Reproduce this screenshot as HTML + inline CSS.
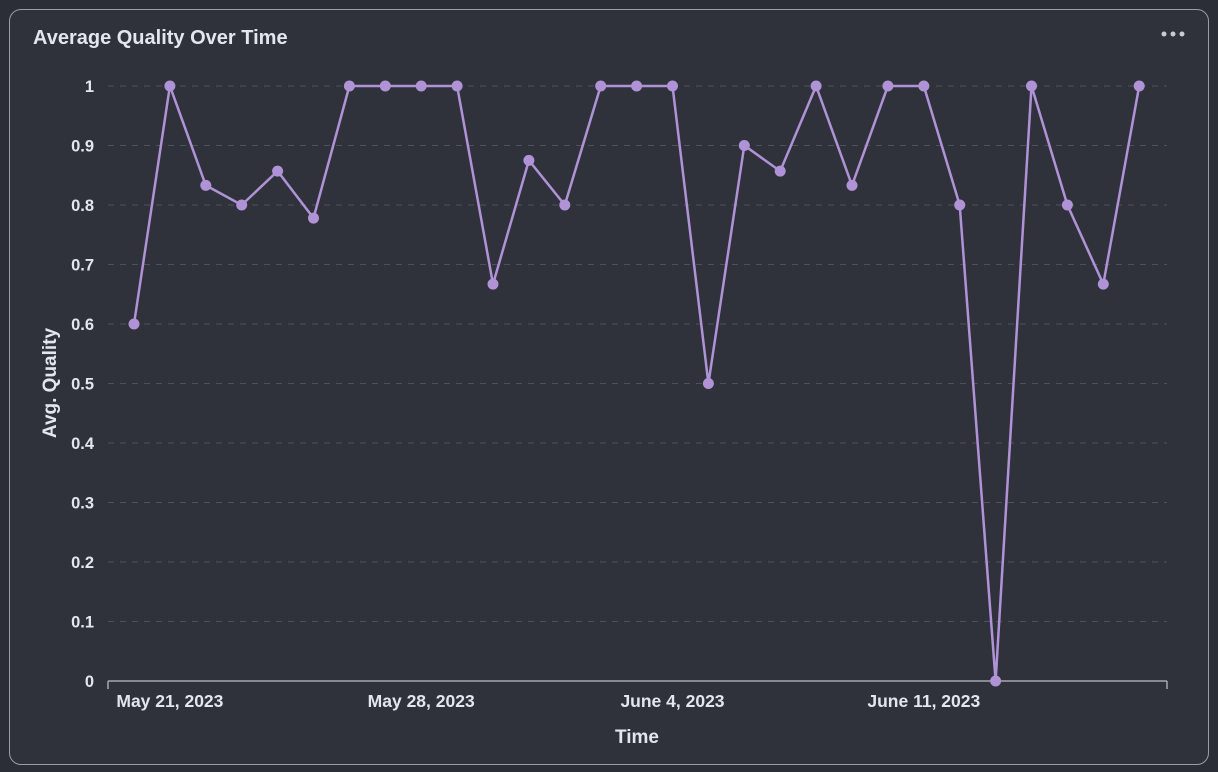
<!DOCTYPE html>
<html><head><meta charset="utf-8"><style>
body{margin:0;background:#2b2e36;font-family:"Liberation Sans",sans-serif;}
.card{position:absolute;left:9px;top:9px;width:1198px;height:754px;border:1px solid #9a9da5;border-radius:12px;background:#2f323b;}
</style></head><body>
<div class="card"></div>
<svg width="1218" height="772" style="position:absolute;left:0;top:0">
<text x="33" y="44" fill="#e3e6ee" font-size="20" font-weight="bold">Average Quality Over Time</text>
<g fill="#c9ccd4"><circle cx="1164" cy="34" r="2.5"/><circle cx="1173" cy="34" r="2.5"/><circle cx="1182" cy="34" r="2.5"/></g>
<g id="grid"></g><g id="yticks"></g><g id="xticks"></g>
<line x1="108" y1="681" x2="1167" y2="681" stroke="#a5a8b0" stroke-width="1.5"/>
<line x1="108" y1="681" x2="108" y2="689" stroke="#a5a8b0" stroke-width="1.5"/>
<line x1="1167" y1="681" x2="1167" y2="689" stroke="#a5a8b0" stroke-width="1.5"/>
<text x="637" y="743" fill="#e3e6ee" font-size="19" font-weight="bold" text-anchor="middle">Time</text>
<text transform="translate(56,383) rotate(-90)" fill="#e3e6ee" font-size="19" font-weight="bold" text-anchor="middle">Avg. Quality</text>
<polyline id="line" fill="none" stroke="#b093d6" stroke-width="2.5"/>
<g id="pts"></g>
</svg>
<script>
const values=[0.6,1,0.833,0.8,0.857,0.778,1,1,1,1,0.667,0.875,0.8,1,1,1,0.5,0.9,0.857,1,0.833,1,1,0.8,0,1,0.8,0.667,1];
const yTicks=[0,0.1,0.2,0.3,0.4,0.5,0.6,0.7,0.8,0.9,1];
const xTickLabels=["May 21, 2023","May 28, 2023","June 4, 2023","June 11, 2023"];
const xTickIdx=[1,8,15,22];
const NS="http://www.w3.org/2000/svg";
const xs=i=>134+i*35.9, ys=v=>681-v*595;
const grid=document.getElementById('grid'),yt=document.getElementById('yticks'),xt=document.getElementById('xticks'),pts=document.getElementById('pts');
yTicks.forEach(t=>{
 if(t>0){const l=document.createElementNS(NS,'line');
 
 
 l.setAttribute('x1',108);l.setAttribute('x2',1167);l.setAttribute('y1',ys(t));l.setAttribute('y2',ys(t));
 l.setAttribute('stroke','#4d515b');l.setAttribute('stroke-dasharray','6,6');grid.appendChild(l);}
 const s=document.createElementNS(NS,'text');
 
 
 s.setAttribute('x',94);s.setAttribute('y',ys(t)+6);s.setAttribute('text-anchor','end');
 s.setAttribute('fill','#e3e6ee');s.setAttribute('font-size','16.5');s.setAttribute('font-weight','bold');
 s.textContent=String(t);yt.appendChild(s);
});
xTickLabels.forEach((lab,k)=>{
 const s=document.createElementNS(NS,'text');
 
 
 s.setAttribute('x',xs(xTickIdx[k]));s.setAttribute('y',707);s.setAttribute('text-anchor','middle');
 s.setAttribute('fill','#e3e6ee');s.setAttribute('font-size','17.5');s.setAttribute('font-weight','bold');
 s.textContent=lab;xt.appendChild(s);
});
document.getElementById('line').setAttribute('points',values.map((v,i)=>xs(i)+','+ys(v)).join(' '));
values.forEach((v,i)=>{
 const c=document.createElementNS(NS,'circle');
 
 
 c.setAttribute('cx',xs(i));c.setAttribute('cy',ys(v));c.setAttribute('r',5.5);c.setAttribute('fill','#b093d6');
 pts.appendChild(c);
});
</script>
</body></html>
